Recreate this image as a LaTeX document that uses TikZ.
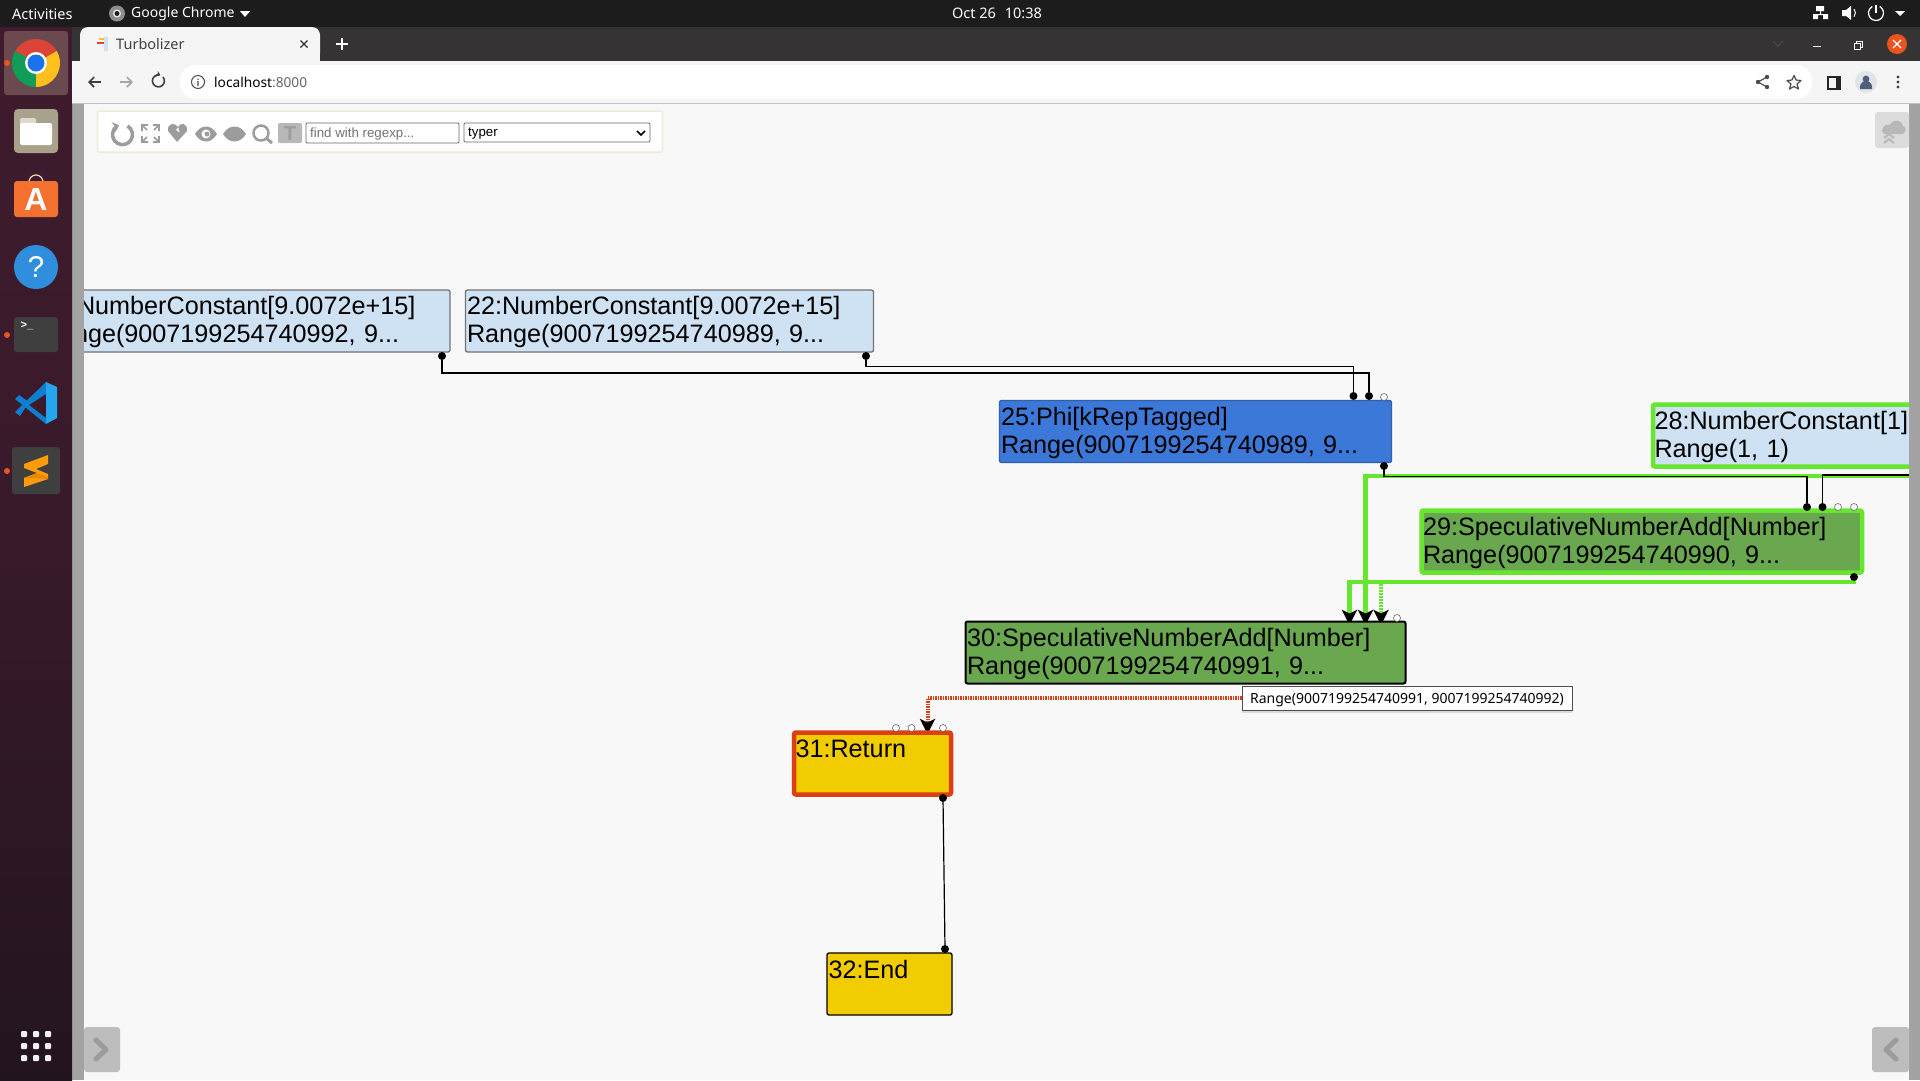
\documentclass[tikz,border=0pt]{standalone}
\usepackage{fontspec}
\usepackage[HTML]{xcolor}
\setmainfont{Liberation Sans}
\newfontfamily\uifont{Noto Sans}
\usetikzlibrary{positioning, arrows, arrows.meta, shadows, backgrounds}

\definecolor{constblue}{HTML}{CFE2F3}
\definecolor{phiblue}{HTML}{3C78D8}
\definecolor{addgreen}{HTML}{6AA84F}
\definecolor{ctrlyellow}{HTML}{F1CC00}
\definecolor{hlgreen}{HTML}{66E62E}
\definecolor{hlred}{HTML}{DC3F13}
\definecolor{toolgray}{HTML}{A3A3A3}
\definecolor{pagebg}{HTML}{F8F8F8}
\definecolor{docktop}{HTML}{3E1B2D}
\definecolor{dockbottom}{HTML}{22141F}
\definecolor{dockhl}{HTML}{6B4A4F}
\definecolor{tabbg}{HTML}{353333}
\definecolor{navbg}{HTML}{F5F5F5}
\definecolor{navline}{HTML}{C4C4C4}
\definecolor{topbg}{HTML}{1C1C1C}
\definecolor{ubuorange}{HTML}{E95420}
\definecolor{chromered}{HTML}{DB4437}
\definecolor{chromegreen}{HTML}{0F9D58}
\definecolor{chromeyellow}{HTML}{FFC01E}
\definecolor{chromeblue}{HTML}{1A73E8}
\definecolor{filesbg}{HTML}{A8A18B}
\definecolor{filestab}{HTML}{DDD9CC}
\definecolor{shopbg}{HTML}{F4702F}
\definecolor{shophandle}{HTML}{F5D5B0}
\definecolor{helpbg}{HTML}{2F8FDC}
\definecolor{termbg}{HTML}{3F3F3F}
\definecolor{codedark}{HTML}{0E7FCE}
\definecolor{codelight}{HTML}{23A6EE}
\definecolor{sublimedark}{HTML}{E88A00}
\definecolor{sublimelight}{HTML}{FF9C0A}
\definecolor{avatarbg}{HTML}{DFE3EA}
\definecolor{avatarfg}{HTML}{4F5F7A}
\definecolor{barbeige}{HTML}{F0EBD8}
\definecolor{btnlight}{HTML}{DCDCDC}
\definecolor{btnicon}{HTML}{B8B8B8}
\definecolor{btnside}{HTML}{BDBDBD}
\definecolor{iconsgray}{HTML}{9C9C9C}

\tikzset{
  graphnode/.style={rectangle, rounded corners=2pt, draw=black!55, line width=1.3pt, align=left, anchor=north west,
    inner xsep=1.5pt, inner ysep=0pt, outer sep=0pt, minimum height=62pt, font=\fontsize{25.2}{27.8}\selectfont},
  lowtext/.style={execute at begin node={\rule{0pt}{21pt}}},
  hlnode/.style={draw=hlgreen, line width=4.5pt},
  portdot/.style={circle, fill=black, inner sep=0pt, minimum size=8pt},
  openport/.style={circle, draw=black!60, fill=white, line width=0.6pt, inner sep=0pt, minimum size=7pt},
  wire/.style={draw=black, line width=1.2pt},
  hlwire/.style={draw=hlgreen, line width=4.5pt},
  tipwire/.style={-{Stealth[length=15pt,width=15pt,inset=3.5pt,black]}},
  uitext/.style={font=\uifont\fontsize{14.5}{16}\selectfont, inner sep=0pt},
  toolicon/.style={iconsgray, line width=2.5pt},
}

\begin{document}
\begin{tikzpicture}[x=1pt, y=-1pt]
\useasboundingbox (0,0) rectangle (1920,1080);

% --- Graph nodes ---
\node[graphnode, lowtext, fill=constblue, text width=367pt] (n21) at (80,290) {\hspace*{-4.5pt}NumberConstant[9.0072e+15]\\\hspace*{-7.5pt}nge(9007199254740992, 9...};
\node[graphnode, lowtext, fill=constblue, text width=405pt] (n22) at (465.5,290) {22:NumberConstant[9.0072e+15]\\Range(9007199254740989, 9...};
\node[graphnode, lowtext, fill=phiblue, draw=phiblue!80!black, text width=389pt] (n25) at (999.5,400.5) {25:Phi[kRepTagged]\\Range(9007199254740989, 9...};
\node[graphnode, lowtext, hlnode, fill=constblue, text width=270pt] (n28) at (1653,404.5) {28:NumberConstant[1]\\Range(1, 1)};
\node[graphnode, lowtext, hlnode, fill=addgreen, text width=437.5pt] (n29) at (1421.5,510.5) {29:SpeculativeNumberAdd[Number]\\Range(9007199254740990, 9...};
\node[graphnode, lowtext, fill=addgreen, draw=black, line width=2pt, text width=437pt] (n30) at (965.5,621.5) {30:SpeculativeNumberAdd[Number]\\Range(9007199254740991, 9...};
\node[graphnode, draw=hlred, line width=4.5pt, fill=ctrlyellow, text width=154pt] (n31) at (794,732.5) {31:Return\\[2pt]~};
\node[graphnode, draw=black, fill=ctrlyellow, text width=122pt] (n32) at (827,953) {32:End\\[2pt]~};

% --- Ports ---
\node[portdot] (out21) at (442,356) {};
\node[portdot] (out22) at (866,356) {};
\node[portdot] (in25a) at (1353.5,396) {};
\node[portdot] (in25b) at (1369,396) {};
\node[openport] (in25c) at (1384,397) {};
\node[portdot] (out25) at (1384,466) {};
\node[portdot] (in29a) at (1807,507) {};
\node[portdot] (in29b) at (1822.5,507) {};
\node[openport] (in29c) at (1838,507) {};
\node[openport] (in29d) at (1854,507) {};
\node[portdot] (out29) at (1854,577) {};
\node[openport] (in30d) at (1397,618) {};
\node[openport] (in31a) at (896,728) {};
\node[openport] (in31b) at (911.5,728) {};
\node[openport] (in31d) at (943,728) {};
\node[portdot] (out31) at (943,798) {};
\node[portdot] (in32) at (945,949) {};
\coordinate (in30a) at (1349.5,625);
\coordinate (in30b) at (1365.5,625);
\coordinate (in30c) at (1381,625);
\coordinate (in31c) at (927.5,734);
\coordinate (right28) at (1912,476);
\coordinate (right29) at (1912,475);
\coordinate (tap30) at (1381,584);

% --- Type tooltip ---
\node[draw=black!70, fill=white, line width=0.8pt, minimum width=330pt, minimum height=24pt, inner sep=0pt, text height=13.5pt, text depth=3.5pt,
  drop shadow={opacity=0.25, shadow xshift=0pt, shadow yshift=-3pt}, uitext, font=\uifont\fontsize{14}{15}\selectfont] (tip30) at (1407,698) {Range(9007199254740991, 9007199254740992)};

% --- Connectors, behind the nodes ---
\begin{scope}[on background layer]
\fill[pagebg] (0,0) rectangle (1920,1080);
\draw[wire] (out21) -- ++(0,17) -| (in25b);
\draw[wire] (out22) -- ++(0,10.5) -| (in25a);
\draw[hlwire, tipwire] (right28) -| (in30b);
\draw[hlwire, tipwire] (out29) -- ++(0,5) -| (in30a);
\draw[hlwire, tipwire, dash pattern=on 1.5pt off 1.5pt] (tap30) -- (in30c);
\draw[wire] (out25) -- ++(0,10.5) -| (in29a);
\draw[wire] (right29) -| (in29b);
\draw[wire] (out31) -- (in32);
\draw[tipwire, draw=hlred, line width=4pt, dash pattern=on 1.5pt off 1pt] (tip30.west) -| (in31c);
\end{scope}

% --- Window chrome ---
\fill[toolgray] (72,103) rectangle (84,1080);
\fill[toolgray] (1909,103) rectangle (1920,1080);
\shade[top color=docktop, bottom color=dockbottom, middle color=docktop!80!dockbottom] (0,27) rectangle (72,1080);
\fill[tabbg] (72,27) rectangle (1920,61);
\fill[navbg] (72,61) rectangle (1920,103);
\draw[navline, line width=1pt] (72,103.5) -- (1920,103.5);
\fill[white, rounded corners=16pt] (180,65) rectangle (1812,99);
\fill[navbg, rounded corners=8pt] (80,27) rectangle (320,61);
\fill[navbg] (80,50) rectangle (320,62);
\fill[topbg] (0,0) rectangle (1920,27);

% --- Top bar ---
\node[uitext, white, anchor=west] (activities) at (12,14) {Activities};
\fill[black!45] (117,13.5) circle (8);
\fill[black!7] (117,13.5) circle (4);
\fill[topbg] (117,13.5) circle (2.5);
\node[uitext, white, anchor=west, font=\uifont\fontsize{14}{16}\selectfont] (appname) at (131,14) {Google Chrome};
\fill[white] (240,11) -- (250,11) -- (245,17) -- cycle;
\node[uitext, white] (clock) at (997,13.5) {Oct 26\hspace{5pt} 10:38};
\fill[white] (1816,6) rectangle (1824,11) (1820,11) rectangle (1821,14) (1813,14) rectangle (1828,15) (1813,15) rectangle (1818,19) (1823,15) rectangle (1828,19);
\fill[white] (1842,10) -- (1846,10) -- (1851,6) -- (1851,20) -- (1846,16) -- (1842,16) -- cycle;
\draw[white, line width=1pt] (1854,9) arc (-40:40:6);
\draw[white, line width=1.2pt] (1879.75,6.5) arc (-60:240:7.5);
\draw[white, line width=1.2pt] (1876,5) -- (1876,13);
\fill[white] (1895,11) -- (1905,11) -- (1900,16) -- cycle;

% --- Tab strip ---
\fill[chromeyellow] (99,38) rectangle (104,40);
\fill[chromered] (97,42) rectangle (104,44);
\fill[constblue] (104,37) rectangle (108,51);
\node[uitext, black!75, anchor=west] (tabtitle) at (116,44) {Turbolizer};
\draw[black!80, line width=1.2pt] (300.5,40.5) -- (307.5,47.5) (307.5,40.5) -- (300.5,47.5);
\draw[white, line width=1.6pt] (336,44) -- (348,44) (342,38) -- (342,50);
\draw[black!70, line width=1pt] (1773,41) -- (1778,46) -- (1783,41);
\draw[white, line width=1.2pt] (1813,46.5) -- (1821,46.5);
\draw[white, line width=1pt] (1854,43) rectangle (1860,49) (1856,43) -- (1856,41) -- (1862,41) -- (1862,47) -- (1860,47);
\fill[ubuorange] (1897,44) circle (10);
\draw[white, line width=1.2pt] (1893,40) -- (1901,48) (1901,40) -- (1893,48);

% --- Address bar ---
\draw[black!75, line width=1.6pt, -{Straight Barb[length=5pt,width=10pt]}] (101,82) -- (88,82);
\draw[black!35, line width=1.6pt, -{Straight Barb[length=5pt,width=10pt]}] (120,82) -- (133,82);
\draw[black!75, line width=1.6pt, -{Stealth[length=4pt,width=6pt]}] (163,77) arc (-40:290:6);
\draw[black!70, line width=1pt] (198,82) circle (6.5);
\fill[black!70] (197.4,81) rectangle (198.6,86) (197.4,78.5) rectangle (198.6,80);
\node[uitext, black, anchor=west, font=\uifont\fontsize{13.7}{15}\selectfont] (hostname) at (214,82) {localhost{\color{black!60}:8000}};
\draw[black!70, line width=1.2pt] (1767,77) -- (1758,82) -- (1767,87);
\fill[black!70] (1767,77) circle (2.2) (1758,82) circle (2.2) (1767,87) circle (2.2);
\draw[black!70, line width=1.2pt, line join=round] (1794,75.5) -- (1796,80) -- (1801,80.5) -- (1797,84) -- (1798.5,89) -- (1794,86.5) -- (1789.5,89) -- (1791,84) -- (1787,80.5) -- (1792,80) -- cycle;
\draw[black!85, line width=2pt] (1828,76.5) rectangle (1840,88.5);
\fill[black!85] (1836,76.5) rectangle (1840,88.5);
\fill[avatarbg] (1866,82) circle (11);
\fill[avatarfg] (1866,79) circle (3.4) (1860,87) rectangle (1872,89) (1860,87) arc (180:360:6);
\fill[black!75] (1898,77) circle (1.6) (1898,82) circle (1.6) (1898,87) circle (1.6);

% --- Dock ---
\fill[dockhl, rounded corners=3pt] (4,31) rectangle (68,95);
\fill[chromered] (36,63) -- ++(210:24) arc (210:330:24) -- cycle;
\fill[chromegreen] (36,63) -- ++(90:24) arc (90:210:24) -- cycle;
\fill[chromeyellow] (36,63) -- ++(-30:24) arc (-30:90:24) -- cycle;
\fill[white] (36,63) circle (11);
\fill[chromeblue] (36,63) circle (8.5);
\fill[filesbg, rounded corners=4pt] (14,109) rectangle (58,153);
\fill[filestab, rounded corners=2pt] (20,118) rectangle (36,130);
\fill[white, rounded corners=2pt] (20,123) rectangle (52,145);
\draw[shophandle, line width=1.2pt] (29,182) arc (180:360:7);
\fill[shopbg, rounded corners=3pt] (14,181) rectangle (58,217);
\node[font=\fontsize{32}{32}\selectfont\bfseries, white, inner sep=0pt] (shopicon) at (36,199) {A};
\fill[helpbg] (36,267) circle (22);
\node[font=\fontsize{30}{30}\selectfont, white, inner sep=0pt] (helpicon) at (36,267) {?};
\fill[termbg, rounded corners=3pt] (14,317) rectangle (58,352);
\node[font=\fontsize{11}{11}\selectfont\bfseries, white, inner sep=0pt] (termicon) at (27,326) {>\_};
\fill[codedark] (15,412) -- (46,382) -- (46,394) -- (29,405) -- (46,418) -- (46,424) -- (15,399) -- (19,395) -- (29,402) -- (20,416) -- cycle;
\fill[codelight] (46,382) -- (57,387) -- (57,418) -- (46,424) -- cycle;
\fill[termbg, rounded corners=3pt] (12,447) rectangle (60,494);
\fill[sublimelight] (24,464) -- (48,455) -- (48,464) -- (36,469) -- (48,474) -- (48,479) -- (24,487) -- (24,478) -- (37,473) -- (24,468) -- cycle;
\fill[sublimedark] (24,478) -- (37,473) -- (48,477) -- (48,479) -- cycle;
\foreach \dy in {63,335,471} {
  \fill[ubuorange] (7,\dy) circle (3);
}
\foreach \gx in {24,36,48} {
  \foreach \gy in {1034,1046,1058} {
    \fill[white!95!black, rounded corners=1pt] (\gx-3,\gy-3) rectangle (\gx+3,\gy+3);
  }
}

% --- Turbolizer toolbar ---
\draw[barbeige, fill=white, rounded corners=2pt, line width=1.5pt] (97.5,111) rectangle (662.5,152);
\draw[toolicon, line width=3.5pt, -{Stealth[length=6pt,width=11pt]}] (127.5,126) arc (-60:250:10);
\foreach \cx/\cy/\sx/\sy in {142/125/1/1, 159/125/-1/1, 142/142/1/-1, 159/142/-1/-1} {
  \draw[toolicon, line width=1.6pt] (\cx+\sx*6,\cy) -- (\cx,\cy) -- (\cx,\cy+\sy*6) (\cx,\cy) -- (\cx+\sx*5,\cy+\sy*5);
}
\fill[iconsgray] (177,142) -- (168,131) .. controls (167,123) and (175,122) .. (178,127) -- (176,130) -- (180,133) -- (178,127) .. controls (180,122) and (188,123) .. (187,131) -- cycle;
\fill[iconsgray] (195,134) .. controls (201,124) and (211,124) .. (217,134) .. controls (211,144) and (201,144) .. (195,134) -- cycle;
\fill[white] (206,134) circle (4.5);
\fill[iconsgray] (207,134) circle (2.5);
\fill[iconsgray] (223,134) .. controls (229,124) and (240,124) .. (246,134) .. controls (240,144) and (229,144) .. (223,134) -- cycle;
\draw[toolicon] (261,133) circle (7.5);
\draw[toolicon, line width=3pt] (266.5,138.5) -- (272,143);
\fill[btnicon, rounded corners=2pt] (278,123) rectangle (302,143);
\node[font=\fontsize{20}{20}\selectfont\bfseries, text=iconsgray, inner sep=0pt] (typeicon) at (290,133.5) {T};
\node[draw=black!60, fill=white, line width=0.8pt, rounded corners=1pt, minimum width=153pt, minimum height=20pt, inner sep=0pt] (regexbox) at (382.5,133) {};
\node[font=\fontsize{13.3}{15}\selectfont, text=black!55, inner sep=0pt, anchor=west] (regextext) at (310,134.5) {find with regexp...};
\node[draw=black!60, fill=white, line width=0.8pt, rounded corners=1pt, minimum width=186pt, minimum height=19pt, inner sep=0pt] (phaselist) at (557,132.5) {};
\node[font=\fontsize{13.3}{15}\selectfont, inner sep=0pt, anchor=west] (phasetext) at (468,133.5) {typer};
\draw[black, line width=1.5pt] (637,131) -- (641,135) -- (645,131);

% --- Corner buttons ---
\fill[btnlight, rounded corners=3pt] (1875,112) rectangle (1909,148);
\fill[btnicon] (1882,131) .. controls (1883,124) and (1888,124) .. (1890,125) .. controls (1893,118) and (1903,120) .. (1903,126) .. controls (1907,126) and (1906,134) .. (1902,134) -- (1884,134) -- cycle;
\draw[btnicon, line width=2pt] (1884,138) -- (1889,134) -- (1894,138) (1884,143) -- (1889,139) -- (1894,143);
\fill[btnside, rounded corners=3pt] (84,1027) rectangle (120,1072);
\draw[iconsgray, line width=5pt, line cap=round, line join=round] (96,1040) -- (106,1049.5) -- (96,1059);
\fill[btnside, rounded corners=3pt] (1872,1027) rectangle (1909,1072);
\draw[iconsgray, line width=5pt, line cap=round, line join=round] (1896,1040) -- (1886,1049.5) -- (1896,1059);

\end{tikzpicture}
\end{document}
